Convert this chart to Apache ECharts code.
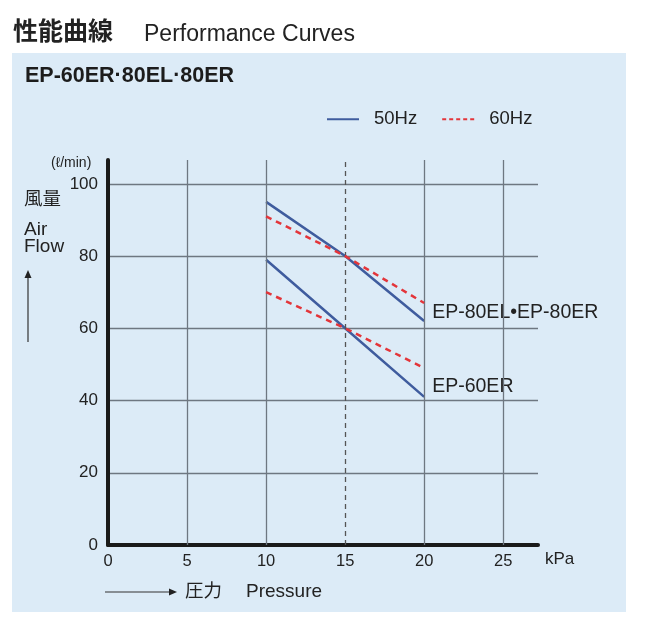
<!DOCTYPE html>
<html>
<head>
<meta charset="utf-8">
<script src="https://cdn.jsdelivr.net/npm/echarts@6/dist/echarts.min.js"></script>
<style>
html,body{margin:0;padding:0;background:#fff;}
#chart{width:655px;height:629px;}
</style>
</head>
<body>
<div id="chart"></div>
<script>
// ---- data ----
var pressure = [10, 15, 20];               // kPa
var ep80_50Hz = [95, 80, 62];              // l/min
var ep80_60Hz = [91, 80, 67];
var ep60_50Hz = [79, 60, 41];
var ep60_60Hz = [70, 60, 49];
var xTickValues = [0, 5, 10, 15, 20, 25];
var yTickValues = [0, 20, 40, 60, 80, 100];
var xGridSolid = [5, 10, 20, 25];
var xGridDashed = [15];
var seriesNames = ['50Hz', '60Hz'];
var curveLabels = ['EP-80EL\u2022EP-80ER', 'EP-60ER'];

function pairs(xs, ys) { return xs.map(function (x, i) { return [x, ys[i]]; }); }

var FONT = '"Liberation Sans", Arial, "Noto Sans CJK JP", sans-serif';
var CJK = '"Noto Sans CJK JP", "Liberation Sans", sans-serif';
var TXT = '#222';
var BLUE = '#3f5c9e';
var RED = '#e3353a';
var GRID = '#6e7781';

var chart = echarts.init(document.getElementById('chart'), null, {renderer: 'canvas'});

function blueLine(data, label, labelOffset) {
  return {
    name: seriesNames[0], type: 'line', data: data, symbol: 'none', z: 4,
    lineStyle: {color: BLUE, width: 2.5},
    itemStyle: {color: BLUE},
    endLabel: {show: true, formatter: label, color: TXT, fontSize: 19.5, fontFamily: FONT,
      offset: labelOffset, distance: 8},
    animation: false
  };
}
function redLine(data) {
  return {
    name: seriesNames[1], type: 'line', data: data, symbol: 'none', z: 5,
    lineStyle: {color: RED, width: 2.5, type: [6, 5]},
    itemStyle: {color: RED},
    animation: false
  };
}

var option = {
  animation: false,
  backgroundColor: '#ffffff',
  textStyle: {fontFamily: FONT},
  grid: {left: 108, right: 117, top: 160, bottom: 84, containLabel: false},
  legend: {
    left: 326, top: 110, itemWidth: 32, itemHeight: 14, itemGap: 24, padding: 0,
    itemStyle: {opacity: 0},
    data: [
      {name: seriesNames[0]},
      {name: seriesNames[1], lineStyle: {type: [4, 3]}}
    ],
    textStyle: {fontSize: 18.5, color: TXT, fontFamily: FONT, padding: [0, 0, 0, 10]}
  },
  xAxis: {
    type: 'value', min: 0, max: 27.2, interval: 5,
    axisLine: {show: true, onZero: false, lineStyle: {color: '#1a1a1a', width: 4}},
    axisTick: {show: false},
    splitLine: {show: false},
    axisLabel: {
      color: TXT, fontSize: 16.5, fontFamily: FONT, margin: 8, showMaxLabel: false,
      formatter: function (v) { return xTickValues.indexOf(v) >= 0 ? String(v) : ''; }
    }
  },
  yAxis: {
    type: 'value', min: 0, max: 106.6, interval: 20,
    axisLine: {show: true, onZero: false, lineStyle: {color: '#1a1a1a', width: 4}},
    axisTick: {show: false},
    splitLine: {show: true, showMinLine: false, showMaxLine: false, lineStyle: {color: GRID, width: 1.3}},
    axisLabel: {
      color: TXT, fontSize: 17, fontFamily: FONT, margin: 10, showMaxLabel: false,
      formatter: function (v) { return yTickValues.indexOf(v) >= 0 ? String(v) : ''; }
    }
  },
  graphic: [
    {type: 'rect', z: -10, shape: {x: 12, y: 53, width: 614, height: 559}, style: {fill: '#dcebf7'}, silent: true},
    {type: 'text', left: 13, top: 18, style: {text: '性能曲線', font: 'bold 25px ' + CJK, fill: '#222'}},
    {type: 'text', left: 144, top: 23, style: {text: 'Performance Curves', font: '23px ' + FONT, fill: '#222'}},
    {type: 'text', left: 25, top: 65, style: {text: 'EP-60ER·80EL·80ER', font: 'bold 21.5px ' + FONT, fill: '#1c1c1c'}},
    {type: 'text', left: 51, top: 156, style: {text: '(ℓ/min)', font: '14px ' + FONT, fill: TXT}},
    {type: 'text', left: 24, top: 189, style: {text: '風量', font: '18.5px ' + CJK, fill: TXT}},
    {type: 'text', left: 24, top: 220, style: {text: 'Air\nFlow', font: '19px ' + FONT, fill: TXT, lineHeight: 17}},
    {type: 'line', shape: {x1: 28, y1: 342, x2: 28, y2: 276}, style: {stroke: '#333', lineWidth: 1.2}},
    {type: 'polygon', shape: {points: [[28, 270], [24.5, 278], [31.5, 278]]}, style: {fill: '#222'}},
    {type: 'text', left: 545, top: 551, style: {text: 'kPa', font: '17px ' + FONT, fill: TXT}},
    {type: 'line', shape: {x1: 105, y1: 592, x2: 170, y2: 592}, style: {stroke: '#333', lineWidth: 1.2}},
    {type: 'polygon', shape: {points: [[177, 592], [169, 588.5], [169, 595.5]]}, style: {fill: '#222'}},
    {type: 'text', left: 185, top: 581, style: {text: '圧力', font: '18.5px ' + CJK, fill: TXT}},
    {type: 'text', left: 246, top: 582, style: {text: 'Pressure', font: '19px ' + FONT, fill: TXT}}
  ],
  series: [
    {
      name: 'grid', type: 'line', data: [], symbol: 'none', silent: true, z: 1,
      markLine: {
        silent: true, symbol: 'none', animation: false, label: {show: false},
        lineStyle: {color: GRID, width: 1.3, type: 'solid'},
        data: xGridSolid.map(function (v) { return {xAxis: v}; }).concat(
          xGridDashed.map(function (v) { return {xAxis: v, lineStyle: {type: [5, 4], color: '#555', width: 1.3}}; }))
      }
    },
    blueLine(pairs(pressure, ep80_50Hz), curveLabels[0], [0, -8]),
    redLine(pairs(pressure, ep80_60Hz)),
    blueLine(pairs(pressure, ep60_50Hz), curveLabels[1], [0, -10]),
    redLine(pairs(pressure, ep60_60Hz))
  ]
};
chart.setOption(option);
</script>
</body>
</html>
